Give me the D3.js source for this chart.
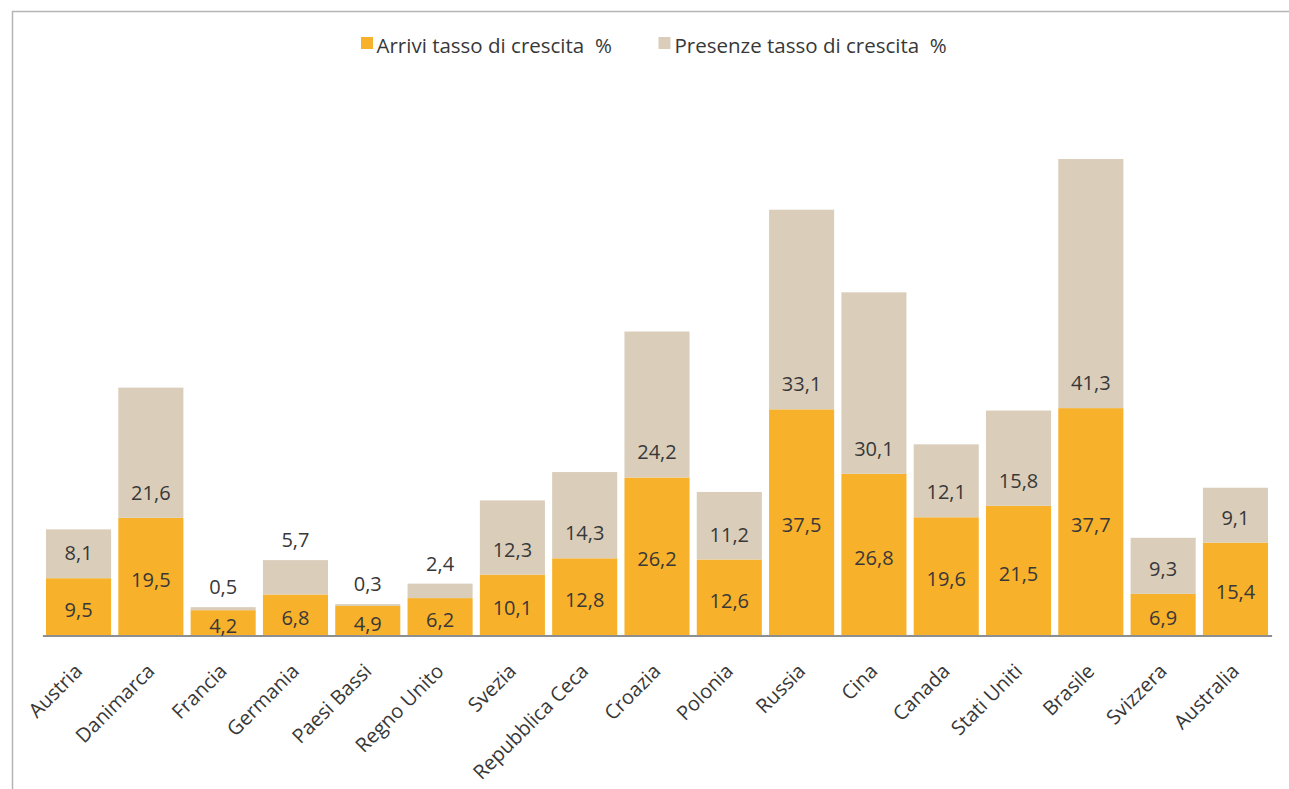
<!DOCTYPE html>
<html lang="it">
<head>
<meta charset="utf-8">
<title>Arrivi e presenze – tasso di crescita %</title>
<script src="https://cdn.jsdelivr.net/npm/d3@7"></script>
<style>
  html, body { margin: 0; padding: 0; background: #ffffff; }
  svg { display: block; }
  text { font-family: "Open Sans", "Noto Sans", sans-serif; fill: #383838; }
</style>
</head>
<body>
<svg id="chart" width="1289" height="789"></svg>
<script>
// Paesi di provenienza
const categories = [
  "Austria", "Danimarca", "Francia", "Germania", "Paesi Bassi", "Regno Unito",
  "Svezia", "Repubblica Ceca", "Croazia", "Polonia", "Russia", "Cina",
  "Canada", "Stati Uniti", "Brasile", "Svizzera", "Australia"
];

// Tasso di crescita degli arrivi (%)
const arrivi = [9.5, 19.5, 4.2, 6.8, 4.9, 6.2, 10.1, 12.8, 26.2, 12.6, 37.5, 26.8, 19.6, 21.5, 37.7, 6.9, 15.4];

// Tasso di crescita delle presenze (%)
const presenze = [8.1, 21.6, 0.5, 5.7, 0.3, 2.4, 12.3, 14.3, 24.2, 11.2, 33.1, 30.1, 12.1, 15.8, 41.3, 9.3, 9.1];

// Voci di legenda
const seriesNames = ["Arrivi tasso di crescita  %", "Presenze tasso di crescita  %"];
const seriesKeys = ["arrivi", "presenze"];
const seriesColors = ["#F8B12A", "#DACEBB"];

// Tabella per lo stack
const rows = categories.map((c, i) => ({ paese: c, arrivi: arrivi[i], presenze: presenze[i] }));
const stacked = d3.stack().keys(seriesKeys)(rows);

const svg = d3.select("#chart");

// Cornice dell'area grafico
svg.append("path")
  .attr("d", "M12.5,789 V11.5 H1289")
  .attr("fill", "none")
  .attr("stroke", "#b5b5b5")
  .attr("stroke-width", 1.5);

const x = d3.scaleBand()
  .domain(categories)
  .range([42.4, 1271.6])
  .paddingInner(0.1)
  .paddingOuter(0.05);

const y = d3.scaleLinear()
  .domain([0, 80])
  .range([635.5, 153]);

const itLocale = d3.formatLocale({ decimal: ",", thousands: ".", grouping: [3], currency: ["", " €"] });
const fmt = itLocale.format(".1f");

const color = d3.scaleOrdinal().domain(seriesKeys).range(seriesColors);

// Barre impilate
const layers = svg.append("g").attr("class", "bars")
  .selectAll("g")
  .data(stacked)
  .join("g")
  .attr("fill", d => color(d.key));

layers.selectAll("rect")
  .data(d => d)
  .join("rect")
  .attr("x", d => x(d.data.paese))
  .attr("width", x.bandwidth())
  .attr("y", d => y(d[1]))
  .attr("height", d => y(d[0]) - y(d[1]));

// Asse delle categorie
const axis = svg.append("g")
  .attr("class", "x-axis")
  .attr("transform", `translate(0,${y(0)})`)
  .call(d3.axisBottom(x).tickSize(0).tickSizeOuter(0));

axis.select(".domain")
  .attr("stroke", "#8e8e8e")
  .attr("stroke-width", 2);

axis.selectAll(".tick text")
  .attr("x", 0)
  .attr("y", 0)
  .attr("dy", "0.35em")
  .attr("text-anchor", "end")
  .attr("transform", "translate(0,32) rotate(-45)")
  .attr("font-family", "'Open Sans', 'Noto Sans', sans-serif")
  .attr("font-size", 20)
  .attr("fill", "#383838");

// Etichette dei valori
const labels = svg.append("g").attr("class", "value-labels")
  .attr("font-size", 20)
  .attr("text-anchor", "middle");

// Arrivi: al centro del segmento
labels.selectAll("text.arrivi")
  .data(stacked[0])
  .join("text")
  .attr("class", "arrivi")
  .attr("x", d => x(d.data.paese) + x.bandwidth() / 2)
  .attr("y", d => (y(d[0]) + y(d[1])) / 2 + 3)
  .attr("dy", "0.35em")
  .text(d => fmt(d.data.arrivi));

// Presenze: alla base del segmento, sopra la barra se il segmento è troppo basso
labels.selectAll("text.presenze")
  .data(stacked[1])
  .join("text")
  .attr("class", "presenze")
  .attr("x", d => x(d.data.paese) + x.bandwidth() / 2)
  .attr("y", d => {
    const h = y(d[0]) - y(d[1]);
    return h < 40 ? y(d[1]) - 20 : y(d[0]) - 25;
  })
  .attr("dy", "0.35em")
  .text(d => fmt(d.data.presenze));

// Legenda
const legendItems = [
  { name: seriesNames[0], key: seriesKeys[0], sx: 361, tx: 376.5 },
  { name: seriesNames[1], key: seriesKeys[1], sx: 658.5, tx: 674.5 }
];
const legend = svg.append("g").attr("class", "legend");
legend.selectAll("rect")
  .data(legendItems)
  .join("rect")
  .attr("x", d => d.sx)
  .attr("y", 37)
  .attr("width", 12)
  .attr("height", 12)
  .attr("fill", d => color(d.key));
legend.selectAll("text")
  .data(legendItems)
  .join("text")
  .attr("x", d => d.tx)
  .attr("y", 53)
  .attr("font-size", 20.5)
  .style("white-space", "pre")
  .attr("xml:space", "preserve")
  .text(d => d.name);
</script>
</body>
</html>
